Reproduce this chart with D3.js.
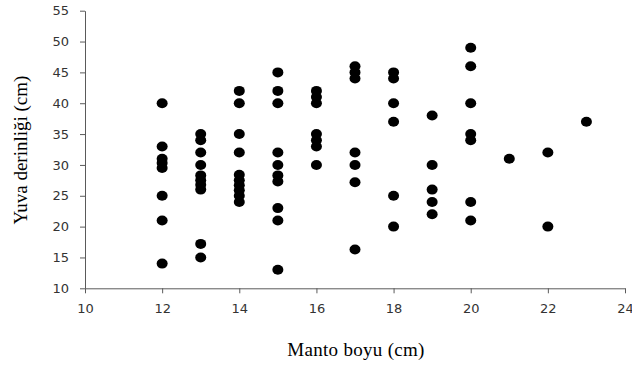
<!DOCTYPE html>
<html>
<head>
<meta charset="utf-8">
<script src="https://cdn.jsdelivr.net/npm/d3@7/dist/d3.min.js"></script>
<style>
  html, body { margin: 0; padding: 0; background: #fff; }
  svg { display: block; }
</style>
</head>
<body>
<svg id="chart" width="632" height="365"></svg>
<script>
// Data: Manto boyu (cm) vs Yuva derinliği (cm)
const mantoBoyu = [
  12,12,12,12,12,12,12,12,
  13,13,13,13,13,13,13,13,13,13,
  14,14,14,14,14,14,14,14,14,14,
  15,15,15,15,15,15,15,15,15,15,
  16,16,16,16,16,16,16,
  17,17,17,17,17,17,17,
  18,18,18,18,18,18,
  19,19,19,19,19,
  20,20,20,20,20,20,20,
  21,
  22,22,
  23
];
const yuvaDerinligi = [
  40,33,31,30.3,29.5,25,21,14,
  35,34,32,30,28.3,27.5,26.8,26,17.2,15,
  42,40,35,32,28.4,27.5,26.7,25.9,25,24,
  45,42,40,32,30,28.3,27.3,23,21,13,
  42,41,40,35,34,33,30,
  46,45,44,32,30,27.2,16.3,
  45,44,40,37,25,20,
  38,30,26,24,22,
  49,46,40,35,34,24,21,
  31,
  32,20,
  37
];
const xTicks = [10,12,14,16,18,20,22,24];
const yTicks = [10,15,20,25,30,35,40,45,50,55];
const xTitle = "Manto boyu (cm)";
const yTitle = "Yuva derinliği (cm)";

const svg = d3.select("#chart");
const x = d3.scaleLinear().domain([10, 24]).range([85, 625]);
const y = d3.scaleLinear().domain([10, 55]).range([288.3, 10.7]);

const axisColor = "#5a5a5a";
const tickFont = "'DejaVu Sans', Verdana, sans-serif";

// X axis
const gx = svg.append("g")
  .attr("transform", `translate(0,${y(10)})`)
  .call(d3.axisBottom(x).tickValues(xTicks).tickSize(5).tickSizeOuter(0).tickFormat(d3.format("d")));
gx.select(".domain").attr("stroke", axisColor);
gx.selectAll(".tick line").attr("stroke", axisColor);
gx.selectAll(".tick text")
  .attr("font-family", tickFont).attr("font-size", 13).attr("fill", "#333")
  .attr("y", 15);

// Y axis
const gy = svg.append("g")
  .attr("transform", `translate(${x(10)},0)`)
  .call(d3.axisLeft(y).tickValues(yTicks).tickSize(5).tickSizeOuter(0).tickFormat(d3.format("d")));
gy.select(".domain").attr("stroke", axisColor);
gy.selectAll(".tick line").attr("stroke", axisColor);
gy.selectAll(".tick text")
  .attr("font-family", tickFont).attr("font-size", 13).attr("fill", "#333")
  .attr("x", -16);

// Points
svg.append("g").selectAll("ellipse")
  .data(mantoBoyu.map((m, i) => [m, yuvaDerinligi[i]]))
  .join("ellipse")
  .attr("cx", d => x(d[0]))
  .attr("cy", d => y(d[1]))
  .attr("rx", 5.5)
  .attr("ry", 5)
  .attr("fill", "#000");

// Titles
svg.append("text")
  .attr("x", 356).attr("y", 356)
  .attr("text-anchor", "middle")
  .attr("font-family", "'Liberation Serif', 'Times New Roman', serif")
  .attr("font-size", 19)
  .attr("letter-spacing", 0.3)
  .attr("fill", "#000")
  .text(xTitle);

svg.append("text")
  .attr("transform", `translate(27,150) rotate(-90)`)
  .attr("text-anchor", "middle")
  .attr("font-family", "'Liberation Serif', 'Times New Roman', serif")
  .attr("font-size", 19)
  .attr("fill", "#000")
  .text(yTitle);
</script>
</body>
</html>
